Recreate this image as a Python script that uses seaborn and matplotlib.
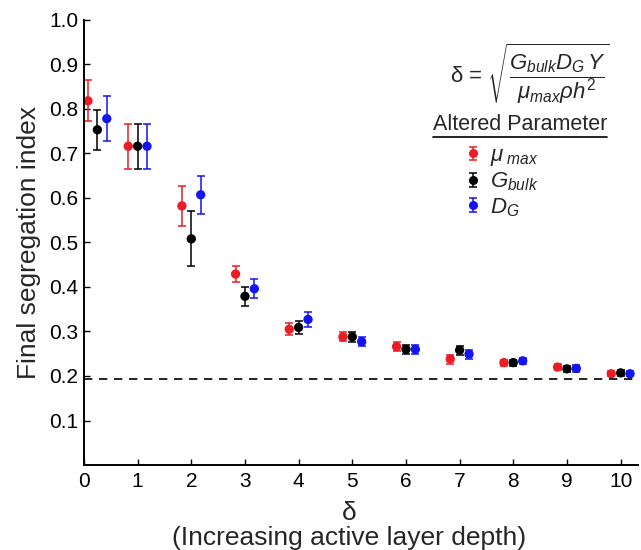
import matplotlib
matplotlib.use('Agg')
import matplotlib.pyplot as plt
from matplotlib.lines import Line2D
from matplotlib.container import ErrorbarContainer
from matplotlib.legend_handler import HandlerErrorbar
import pandas as pd
import seaborn as sns

# data
delta = [0.25, 1, 2, 3, 4, 5, 6, 7, 8, 9, 10]
mu_max = [0.818, 0.716, 0.582, 0.429, 0.305, 0.288, 0.266, 0.238, 0.230, 0.220, 0.205]
mu_max_err = [0.046, 0.050, 0.045, 0.018, 0.013, 0.010, 0.010, 0.010, 0.007, 0.007, 0.006]
g_bulk = [0.753, 0.716, 0.508, 0.379, 0.309, 0.288, 0.260, 0.258, 0.230, 0.216, 0.207]
g_bulk_err = [0.045, 0.050, 0.062, 0.021, 0.015, 0.011, 0.010, 0.010, 0.007, 0.007, 0.006]
d_g = [0.778, 0.716, 0.607, 0.396, 0.327, 0.277, 0.260, 0.249, 0.234, 0.217, 0.205]
d_g_err = [0.050, 0.050, 0.043, 0.021, 0.016, 0.010, 0.010, 0.010, 0.007, 0.007, 0.006]
limit = 0.193

series = ['mu', 'G', 'D']
labels = [r'$\mu_{\ max}$', r'$G_{bulk}$', r'$D_G$']
values = [mu_max, g_bulk, d_g]
errors = [mu_max_err, g_bulk_err, d_g_err]
colors = ['#ec1c24', '#000000', '#1414f0']
offsets = [-0.175, 0.0, 0.175]

sns.set_style('ticks')
plt.rcParams['font.family'] = ['Liberation Sans', 'DejaVu Sans']
plt.rcParams['mathtext.fontset'] = 'custom'
plt.rcParams['mathtext.rm'] = 'Liberation Sans'
plt.rcParams['mathtext.it'] = 'Liberation Sans:italic'
plt.rcParams['mathtext.bf'] = 'Liberation Sans:bold'

rows = []
for s, v, e, off in zip(series, values, errors, offsets):
    for d, y, err in zip(delta, v, e):
        rows.append({'x': d + off, 'y': y, 'err': err, 'series': s})
df = pd.DataFrame(rows)

fig = plt.figure(figsize=(6.41, 5.5), dpi=100)
ax = fig.add_axes([0.131, 0.1545, 0.864, 0.8095])

handles = []
for s, c in zip(series, colors):
    sub = df[df['series'] == s]
    eb = ax.errorbar(sub['x'], sub['y'], yerr=sub['err'], fmt='none',
                     ecolor=c, elinewidth=1.1, capsize=3.2, capthick=1.1)
    marker = Line2D([], [], marker='o', color=c, ls='', ms=5.5)
    handles.append(ErrorbarContainer((marker, eb.lines[1], eb.lines[2]),
                                     has_xerr=False, has_yerr=True))

sns.scatterplot(data=df, x='x', y='y', hue='series', palette=colors,
                hue_order=series, s=45, edgecolor='none', legend=False, ax=ax)

ax.axhline(limit, color='black', lw=1.2, ls=(0, (5, 4)))

ax.set_xlim(0, 10.32)
ax.set_ylim(0, 1.0)
ax.set_xticks(range(0, 11))
ax.set_yticks([0.1, 0.2, 0.3, 0.4, 0.5, 0.6, 0.7, 0.8, 0.9, 1.0])
ax.tick_params(direction='in', length=4, width=1, labelsize=15, colors='black')
ax.tick_params(axis='x', pad=5)
ax.tick_params(axis='y', pad=4)
for sp in ['top', 'right']:
    ax.spines[sp].set_visible(False)
for sp in ['left', 'bottom']:
    ax.spines[sp].set_linewidth(1.4)
    ax.spines[sp].set_color('black')

ax.set_xlabel('\u03b4\n(Increasing active layer depth)', fontsize=19,
              x=0.478, linespacing=1.05, labelpad=7)
ax.set_ylabel('Final segregation index', fontsize=19, labelpad=6)

fig.text(530 / 641, 1 - 74 / 550,
         r'$\mathrm{\delta}$ = $\sqrt{\dfrac{G_{bulk}D_G\,Y}{\mu_{max}\rho h^2}}$',
         fontsize=16, ha='center', va='center')

title = fig.text(520 / 641, 1 - 124 / 550, 'Altered Parameter', fontsize=15.5,
                 ha='center', va='center')
fig.canvas.draw()
bb = title.get_window_extent()
fig.add_artist(Line2D([bb.x0 / 641, bb.x1 / 641],
                      [(bb.y0 - 2) / 550, (bb.y0 - 2) / 550],
                      color='black', lw=1.2))

fig.legend(handles, labels, loc='upper left',
           bbox_to_anchor=(466 / 641, 1 - 145 / 550),
           handler_map={ErrorbarContainer: HandlerErrorbar(xerr_size=0.3)},
           frameon=False, fontsize=16, handlelength=0.6, handletextpad=0.5,
           labelspacing=0.12, borderaxespad=0, borderpad=0)

fig.savefig('out.png', dpi=100)
